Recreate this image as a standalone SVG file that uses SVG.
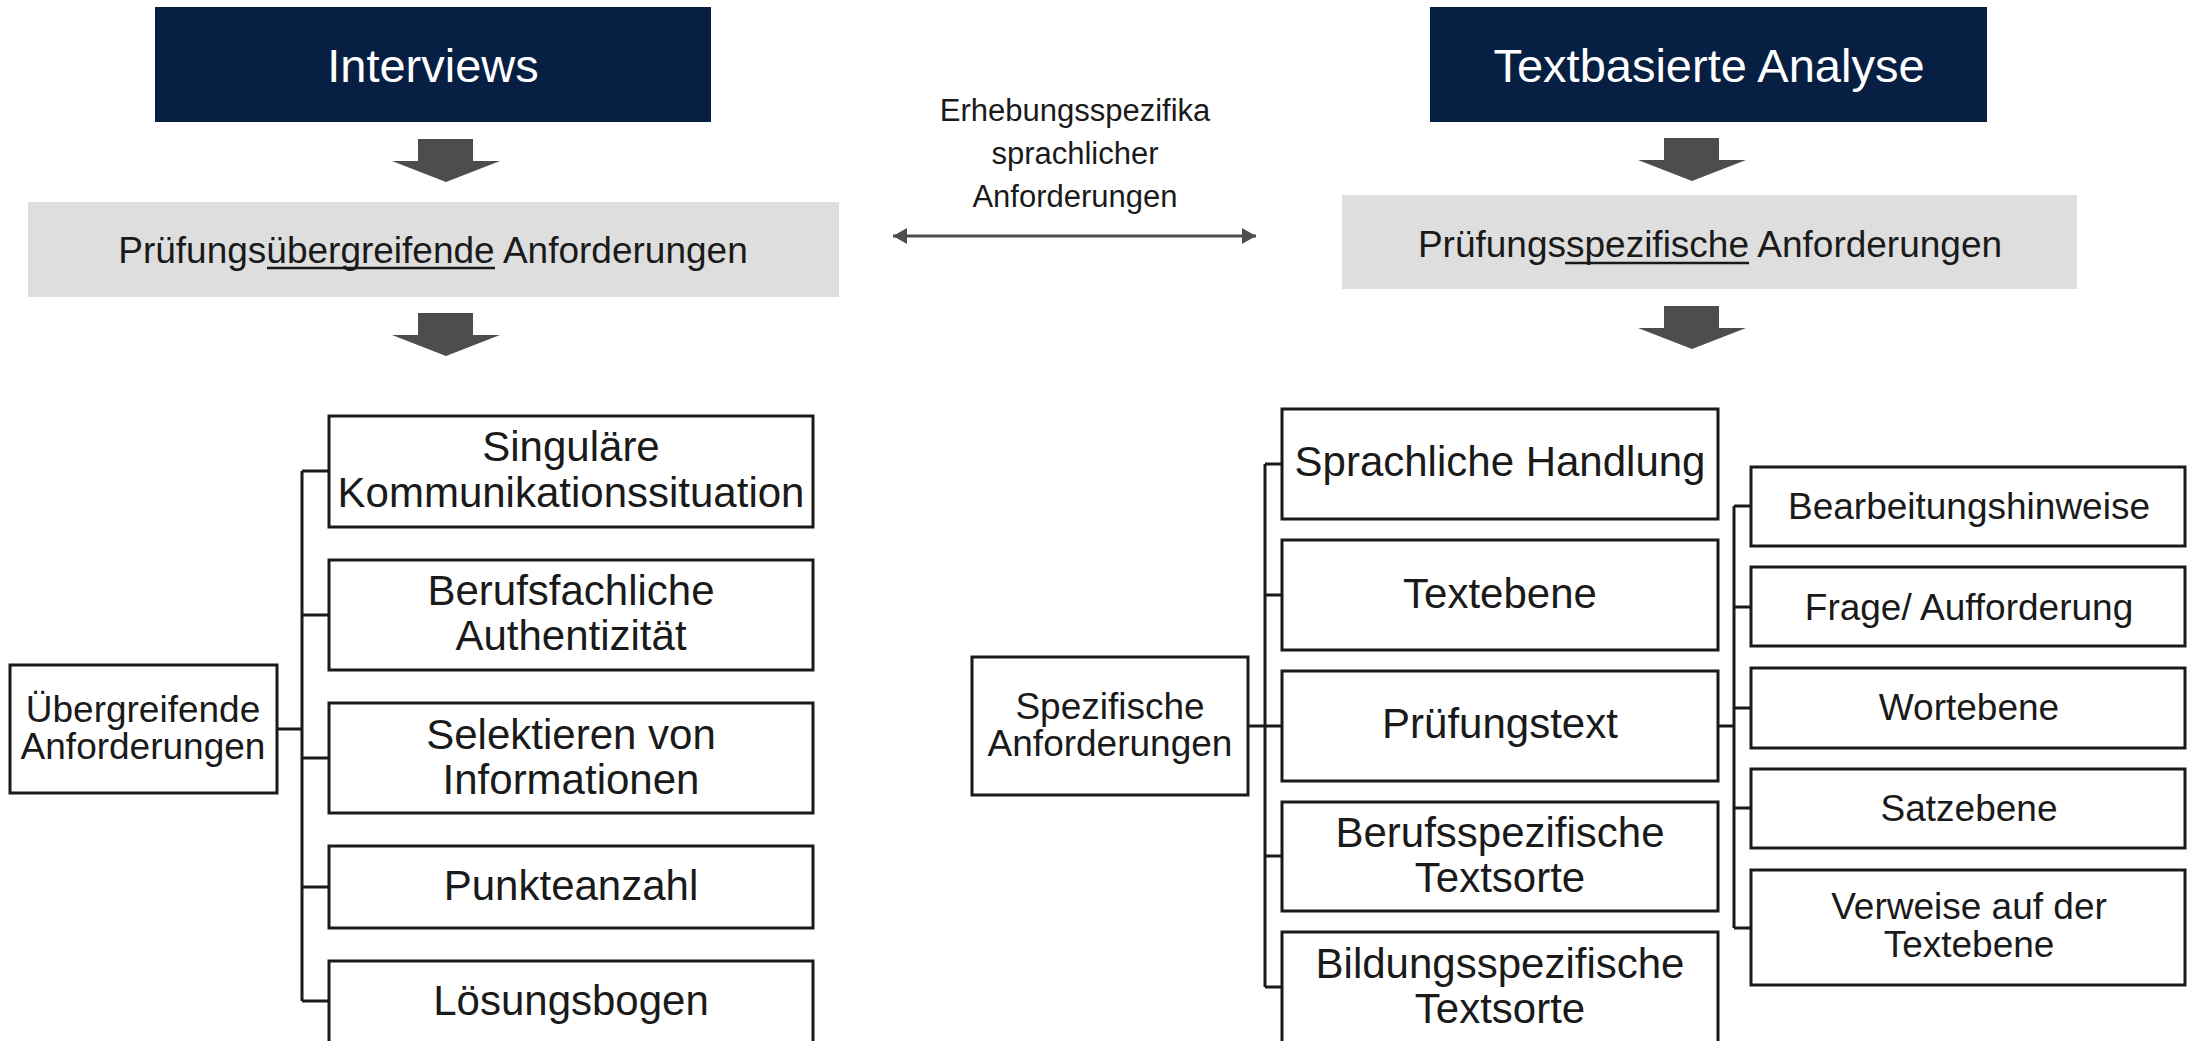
<svg xmlns="http://www.w3.org/2000/svg" width="2187" height="1041" viewBox="0 0 2187 1041">
<style>
text{font-family:"Liberation Sans",Arial,sans-serif;fill:#1a1a1a;text-anchor:middle}
.hdr{fill:#061f42}
.hdrt{fill:#ffffff;font-size:47px}
.gray{fill:#dedede}
.grayt{font-size:37px}
.box{fill:#ffffff;stroke:#1a1a1a;stroke-width:3}
.t42{font-size:42px}
.t37{font-size:37px}
.t31{font-size:31px}
.conn{fill:none;stroke:#1a1a1a;stroke-width:3}
.down{fill:#4d4d4d}
.ul{stroke:#1a1a1a;stroke-width:2.5}
</style>
<defs>
<marker id="ah" viewBox="0 0 14 16" refX="14" refY="8" markerWidth="14" markerHeight="16" markerUnits="userSpaceOnUse" orient="auto-start-reverse">
<path d="M0,0 L14,8 L0,16 Z" fill="#4d4d4d"/>
</marker>
<path id="darrow" d="M-28,0 H27 V22 H54 L0,43 L-54,22 H-28 Z"/>
</defs>

<g id="interviews">
<rect class="hdr" x="155" y="7" width="556" height="115"/>
<text class="hdrt" x="433" y="82">Interviews</text>
</g>
<g id="textanalyse">
<rect class="hdr" x="1430" y="7" width="557" height="115"/>
<text class="hdrt" x="1709" y="82">Textbasierte Analyse</text>
</g>

<g id="uebergreifend-header">
<rect class="gray" x="28" y="202" width="811" height="95"/>
<text class="grayt" x="433" y="263">Prüfungsübergreifende Anforderungen</text>
<line class="ul" x1="267" y1="268" x2="495" y2="268"/>
</g>
<g id="spezifisch-header">
<rect class="gray" x="1342" y="195" width="735" height="94"/>
<text class="grayt" x="1710" y="257">Prüfungsspezifische Anforderungen</text>
<line class="ul" x1="1565" y1="263" x2="1749" y2="263"/>
</g>

<g id="erhebung-label">
<text class="t31" x="1075" y="121">Erhebungsspezifika</text>
<text class="t31" x="1075" y="164">sprachlicher</text>
<text class="t31" x="1075" y="207">Anforderungen</text>
</g>

<g id="connectors">
<use href="#darrow" class="down" x="446" y="139"/>
<use href="#darrow" class="down" x="446" y="313"/>
<use href="#darrow" class="down" x="1692" y="138"/>
<use href="#darrow" class="down" x="1692" y="306"/>
<line x1="893" y1="236" x2="1256" y2="236" stroke="#4d4d4d" stroke-width="3" marker-start="url(#ah)" marker-end="url(#ah)"/>
<path class="conn" d="M277,729 H302 M302,471 V1001 M302,471 H329 M302,615 H329 M302,758 H329 M302,887 H329 M302,1001 H329"/>
<path class="conn" d="M1248,726 H1265 M1265,464 V987 M1265,464 H1282 M1265,595 H1282 M1265,726 H1282 M1265,856 H1282 M1265,987 H1282"/>
<path class="conn" d="M1718,726 H1734 M1734,506 V928 M1734,506 H1751 M1734,607 H1751 M1734,708 H1751 M1734,808 H1751 M1734,928 H1751"/>
</g>

<g id="uebergreifende-anforderungen">
<rect class="box" x="10" y="665" width="267" height="128"/>
<text class="t37" x="143" y="722">Übergreifende</text>
<text class="t37" x="143" y="759">Anforderungen</text>
</g>
<g id="singulaere">
<rect class="box" x="329" y="416" width="484" height="111"/>
<text class="t42" x="571" y="461">Singuläre</text>
<text class="t42" x="571" y="507">Kommunikationssituation</text>
</g>
<g id="berufsfachliche">
<rect class="box" x="329" y="560" width="484" height="110"/>
<text class="t42" x="571" y="605">Berufsfachliche</text>
<text class="t42" x="571" y="650">Authentizität</text>
</g>
<g id="selektieren">
<rect class="box" x="329" y="703" width="484" height="110"/>
<text class="t42" x="571" y="749">Selektieren von</text>
<text class="t42" x="571" y="794">Informationen</text>
</g>
<g id="punkteanzahl">
<rect class="box" x="329" y="846" width="484" height="82"/>
<text class="t42" x="571" y="900">Punkteanzahl</text>
</g>
<g id="loesungsbogen">
<rect class="box" x="329" y="961" width="484" height="84"/>
<text class="t42" x="571" y="1015">Lösungsbogen</text>
</g>

<g id="spezifische-anforderungen">
<rect class="box" x="972" y="657" width="276" height="138"/>
<text class="t37" x="1110" y="719">Spezifische</text>
<text class="t37" x="1110" y="756">Anforderungen</text>
</g>
<g id="sprachliche-handlung">
<rect class="box" x="1282" y="409" width="436" height="110"/>
<text class="t42" x="1500" y="476">Sprachliche Handlung</text>
</g>
<g id="textebene">
<rect class="box" x="1282" y="540" width="436" height="110"/>
<text class="t42" x="1500" y="608">Textebene</text>
</g>
<g id="pruefungstext">
<rect class="box" x="1282" y="671" width="436" height="110"/>
<text class="t42" x="1500" y="738">Prüfungstext</text>
</g>
<g id="berufsspezifische">
<rect class="box" x="1282" y="802" width="436" height="109"/>
<text class="t42" x="1500" y="847">Berufsspezifische</text>
<text class="t42" x="1500" y="892">Textsorte</text>
</g>
<g id="bildungsspezifische">
<rect class="box" x="1282" y="932" width="436" height="113"/>
<text class="t42" x="1500" y="978">Bildungsspezifische</text>
<text class="t42" x="1500" y="1023">Textsorte</text>
</g>

<g id="bearbeitungshinweise">
<rect class="box" x="1751" y="467" width="434" height="79"/>
<text class="t37" x="1969" y="519">Bearbeitungshinweise</text>
</g>
<g id="frage">
<rect class="box" x="1751" y="567" width="434" height="79"/>
<text class="t37" x="1969" y="620">Frage/ Aufforderung</text>
</g>
<g id="wortebene">
<rect class="box" x="1751" y="668" width="434" height="80"/>
<text class="t37" x="1969" y="720">Wortebene</text>
</g>
<g id="satzebene">
<rect class="box" x="1751" y="769" width="434" height="79"/>
<text class="t37" x="1969" y="821">Satzebene</text>
</g>
<g id="verweise">
<rect class="box" x="1751" y="870" width="434" height="115"/>
<text class="t37" x="1969" y="919">Verweise auf der</text>
<text class="t37" x="1969" y="957">Textebene</text>
</g>
</svg>
